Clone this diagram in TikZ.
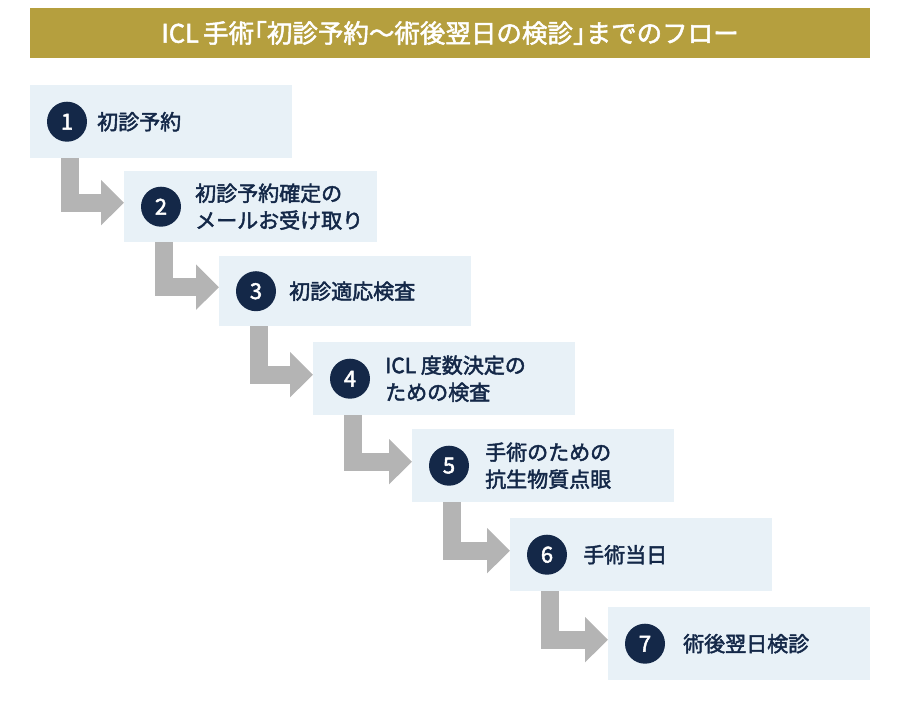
\documentclass[tikz,border=0pt]{standalone}
\usepackage{fontspec}
\setmainfont{Noto Sans CJK JP}
\newfontfamily\medfont{Noto Sans CJK JP}[FakeBold=2.2]
\newfontfamily\titlefont{Noto Sans CJK JP}[FakeBold=2,RawFeature=+halt]
\usetikzlibrary{arrows.meta}
\usetikzlibrary{calc}
\definecolor{gold}{RGB}{181,159,62}
\definecolor{navy}{RGB}{20,40,72}
\definecolor{paleblue}{RGB}{232,241,247}
\definecolor{flowgray}{RGB}{180,180,180}

\begin{document}
\begin{tikzpicture}[x=1pt,y=-1pt,
stepbox/.style={fill=paleblue,anchor=north west,inner sep=0pt,minimum width=262pt,minimum height=73pt},
stepnum/.style={circle,fill=navy,text=white,minimum size=40pt,inner sep=0pt,font=\medfont\fontsize{22}{22}\selectfont},
steptext/.style={anchor=west,text=navy,align=left,inner sep=0pt,font=\medfont\fontsize{21}{27}\selectfont},
flow/.style={flowgray,line width=18pt,line join=miter,-{Triangle[length=23pt,width=44pt]}}
]
\useasboundingbox (0,0) rectangle (900,702);
\node[fill=gold,minimum width=840pt,minimum height=50pt,text=white,font=\titlefont\fontsize{25.5}{25.5}\selectfont] (title) at (450,33) {ICL\,手術「初診予約〜術後翌日の検診」までのフロー};

\node[stepbox] (b1) at (30,85) {};
\node[stepbox,minimum width=253pt,minimum height=71pt] (b2) at (124,171) {};
\node[stepbox,minimum width=252pt,minimum height=70pt] (b3) at (219,256) {};
\node[stepbox] (b4) at (313,342) {};
\node[stepbox] (b5) at (412,429) {};
\node[stepbox] (b6) at (510,518) {};
\node[stepbox] (b7) at (608,607) {};

\node[stepnum] (n1) at ($(b1.west)+(37,0)$) {1};
\node[stepnum] (n2) at ($(b2.west)+(37,0)$) {2};
\node[stepnum] (n3) at ($(b3.west)+(37,0)$) {3};
\node[stepnum] (n4) at ($(b4.west)+(37,0)$) {4};
\node[stepnum] (n5) at ($(b5.west)+(37,0)$) {5};
\node[stepnum] (n6) at ($(b6.west)+(37,0)$) {6};
\node[stepnum] (n7) at ($(b7.west)+(37,0)$) {7};

\node[steptext] (t1) at ($(b1.west)+(67,0)$) {初診予約};
\node[steptext] (t2) at ($(b2.west)+(71,0)$) {初診予約確定の\\メールお受け取り};
\node[steptext] (t3) at ($(b3.west)+(70,0)$) {初診適応検査};
\node[steptext] (t4) at ($(b4.west)+(72,0)$) {ICL 度数決定の\\ための検査};
\node[steptext] (t5) at ($(b5.west)+(73,0)$) {手術のための\\抗生物質点眼};
\node[steptext] (t6) at ($(b6.west)+(73,0)$) {手術当日};
\node[steptext] (t7) at ($(b7.west)+(75,0)$) {術後翌日検診};

\draw[flow] ($(b1.south west)+(40,0)$) |- ($(b2.west)+(0,-4)$);
\draw[flow] ($(b2.south west)+(40,0)$) |- ($(b3.west)+(0,-4)$);
\draw[flow] ($(b3.south west)+(40,0)$) |- ($(b4.west)+(0,-4)$);
\draw[flow] ($(b4.south west)+(40,0)$) |- ($(b5.west)+(0,-4)$);
\draw[flow] ($(b5.south west)+(40,0)$) |- ($(b6.west)+(0,-4)$);
\draw[flow] ($(b6.south west)+(40,0)$) |- ($(b7.west)+(0,-4)$);
\end{tikzpicture}
\end{document}
